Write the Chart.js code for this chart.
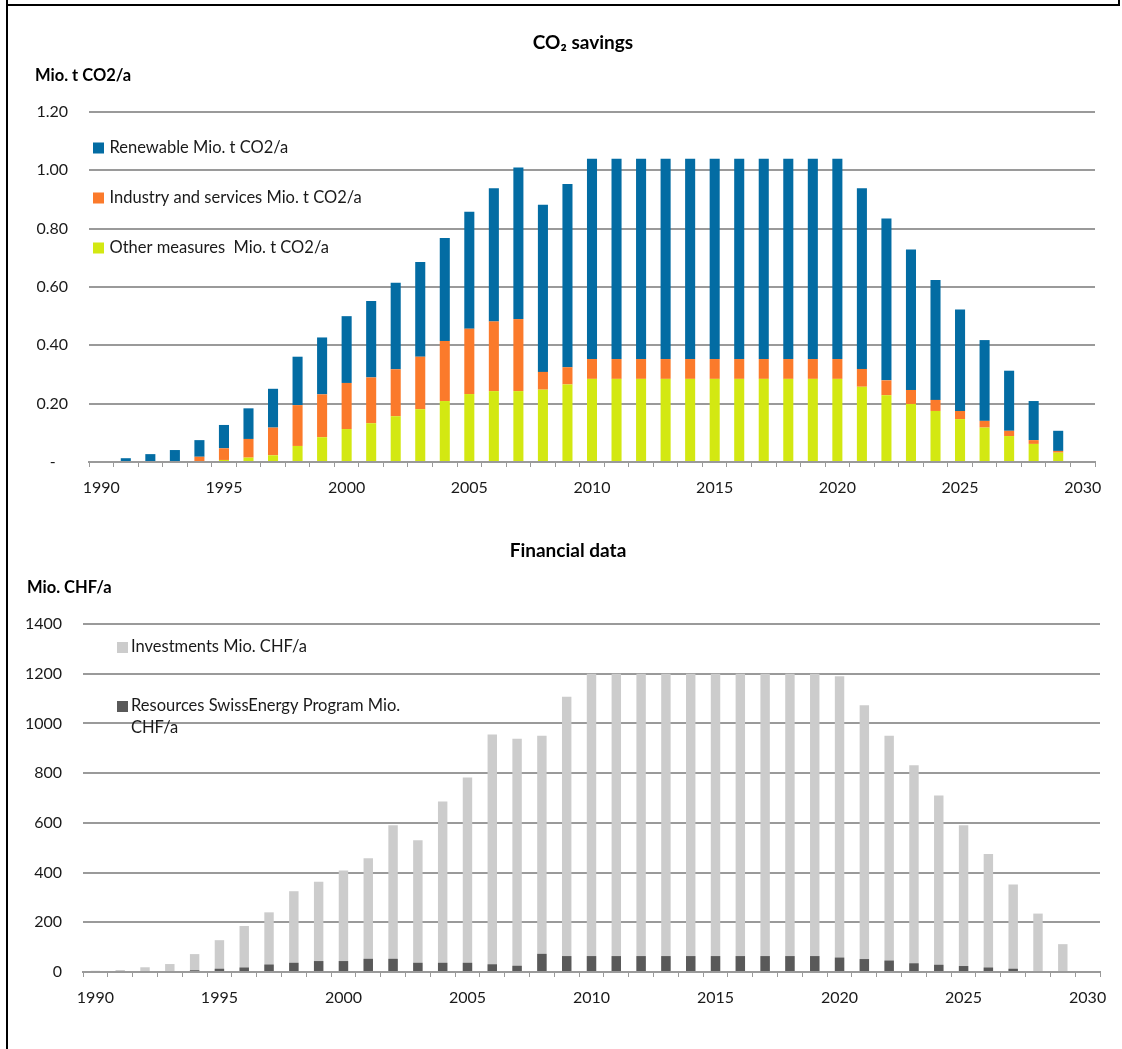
<!DOCTYPE html>
<html>
<head>
<meta charset="utf-8">
<script src="https://cdn.jsdelivr.net/npm/chart.js@4.4.1/dist/chart.umd.min.js"></script>
<style>
  html, body { margin: 0; padding: 0; background: #fff; overflow: hidden; }
  #page { position: relative; width: 1122px; height: 1049px; }
  canvas { position: absolute; left: 0; }
  .line { position: absolute; background: #000; }
</style>
</head>
<body>
<div id="page">
  <div class="line" style="left:6px;top:0;width:2px;height:1049px"></div>
  <div class="line" style="left:6px;top:4px;width:1114px;height:2px"></div>
  <div class="line" style="left:1118px;top:0;width:2px;height:6px"></div>
  <canvas id="co2" width="1122" height="500" style="top:0"></canvas>
  <canvas id="finance" width="1122" height="549" style="top:500px"></canvas>
</div>
<script>
const years = [1990, 1991, 1992, 1993, 1994, 1995, 1996, 1997, 1998, 1999,
  2000, 2001, 2002, 2003, 2004, 2005, 2006, 2007, 2008, 2009,
  2010, 2011, 2012, 2013, 2014, 2015, 2016, 2017, 2018, 2019,
  2020, 2021, 2022, 2023, 2024, 2025, 2026, 2027, 2028, 2029, 2030]

// Mio. t CO2/a
const otherMeasures = [0, 0, 0, 0, 0, 0.007, 0.015, 0.023, 0.055, 0.085,
  0.113, 0.133, 0.157, 0.181, 0.209, 0.233, 0.243, 0.243, 0.248, 0.266,
  0.285, 0.285, 0.285, 0.285, 0.285, 0.285, 0.285, 0.285, 0.285, 0.285,
  0.285, 0.258, 0.229, 0.199, 0.175, 0.147, 0.118, 0.089, 0.062, 0.032, 0]
const industry = [0, 0, 0, 0, 0.018, 0.040, 0.064, 0.095, 0.140, 0.147,
  0.158, 0.157, 0.161, 0.180, 0.206, 0.224, 0.239, 0.247, 0.061, 0.059,
  0.068, 0.068, 0.068, 0.068, 0.068, 0.068, 0.068, 0.068, 0.068, 0.068,
  0.068, 0.061, 0.051, 0.048, 0.038, 0.028, 0.023, 0.018, 0.013, 0.006, 0]
const renewable = [0, 0.013, 0.027, 0.041, 0.057, 0.080, 0.105, 0.133, 0.166, 0.195,
  0.229, 0.262, 0.297, 0.325, 0.353, 0.401, 0.457, 0.520, 0.573, 0.628,
  0.687, 0.687, 0.687, 0.687, 0.687, 0.687, 0.687, 0.687, 0.687, 0.687,
  0.687, 0.620, 0.555, 0.482, 0.411, 0.348, 0.277, 0.206, 0.134, 0.069, 0]

// Mio. CHF/a
const investments = [5, 8, 19, 32, 72, 128, 185, 240, 325, 363,
  408, 458, 590, 530, 686, 782, 955, 938, 950, 1107,
  1200, 1200, 1200, 1200, 1200, 1200, 1200, 1200, 1200, 1200,
  1190, 1073, 950, 832, 710, 590, 475, 352, 235, 112, 0]
const resources = [0, 0, 0, 0, 7, 13, 18, 30, 37, 44,
  44, 53, 53, 37, 37, 37, 31, 25, 73, 64,
  64, 64, 64, 64, 64, 64, 64, 64, 64, 64,
  58, 52, 46, 35, 29, 24, 18, 13, 0, 0, 0]

const co2Ticks = [0, 0.2, 0.4, 0.6, 0.8, 1.0, 1.2]
const chfTicks = [0, 200, 400, 600, 800, 1000, 1200, 1400]

const FONT = "Lato, 'Open Sans', sans-serif"
const GRID = "#9a9a9a"

// titles, unit label and the in-plot legend
const headings = {
  id: "headings",
  afterDraw(chart, args, o) {
    const {ctx, chartArea} = chart
    ctx.save()
    ctx.textBaseline = "middle"
    ctx.fillStyle = "#000"
    ctx.font = "bold 19px " + FONT
    ctx.textAlign = "center"
    ctx.fillText(o.title, o.titleX, o.titleY)
    ctx.font = "bold 16.5px " + FONT
    ctx.textAlign = "left"
    ctx.fillText(o.unit, o.unitX, o.unitY)

    ctx.font = "16.5px " + FONT
    let y = chartArea.top + o.legendTop
    const x = chartArea.left + o.legendLeft
    o.legendOrder.forEach((i) => {
      const ds = chart.data.datasets[i]
      ctx.fillStyle = ds.backgroundColor
      ctx.fillRect(x, y - 5, 11, 11)
      ctx.fillStyle = "#1a1a1a"
      ;[].concat(ds.label).forEach((t, j) => ctx.fillText(t, x + o.textGap, y + j * o.lineGap))
      y += o.itemGap
    })
    ctx.restore()
  }
}

const xAxis = (height) => ({
  stacked: true,
  offset: true,
  afterFit: (s) => { s.height = height },
  grid: { drawOnChartArea: false, drawTicks: true, tickLength: 5, offset: true, color: GRID, lineWidth: 1 },
  border: { display: true, color: GRID, width: 2 },
  ticks: {
    autoSkip: false, maxRotation: 0, padding: 11, color: "#1a1a1a",
    font: { family: FONT, size: 16 },
    callback: function (v) {
      const y = this.getLabelForValue(v)
      return y % 5 === 0 ? String(y) : ""
    }
  }
})

const yAxis = (width, tickValues, fmt) => ({
  min: tickValues[0],
  max: tickValues[tickValues.length - 1],
  afterFit: (s) => { s.width = width },
  afterBuildTicks: (s) => { s.ticks = tickValues.map((v) => ({value: v})) },
  grid: { drawTicks: false, color: GRID, lineWidth: 2 },
  border: { display: false },
  ticks: { padding: 21, color: "#1a1a1a", font: { family: FONT, size: 16 }, callback: fmt }
})

new Chart(document.getElementById("co2"), {
  type: "bar",
  data: {
    labels: years,
    datasets: [
      { label: "Other measures  Mio. t CO2/a", data: otherMeasures, backgroundColor: "#d3e812" },
      { label: "Industry and services Mio. t CO2/a", data: industry, backgroundColor: "#fb7a2b" },
      { label: "Renewable Mio. t CO2/a", data: renewable, backgroundColor: "#036ca3" },
    ],
  },
  options: {
    responsive: false,
    animation: false,
    barPercentage: 0.41,
    categoryPercentage: 1,
    layout: { padding: { top: 112, right: 27, bottom: 0, left: 0 } },
    scales: {
      x: xAxis(38),
      y: Object.assign(yAxis(89, co2Ticks, (v) => v === 0 ? "-   " : v.toFixed(2)), { stacked: true }),
    },
    plugins: {
      legend: { display: false },
      tooltip: { enabled: false },
      headings: {
        title: "CO\u2082 savings", titleX: 583, titleY: 43,
        unit: "Mio. t CO2/a", unitX: 35, unitY: 76,
        legendOrder: [2, 1, 0], legendLeft: 4, legendTop: 35.5, itemGap: 50, textGap: 16.5, lineGap: 22,
      },
    },
  },
  plugins: [headings],
})

new Chart(document.getElementById("finance"), {
  type: "bar",
  data: {
    labels: years,
    datasets: [
      { label: "Investments Mio. CHF/a", data: investments, backgroundColor: "#cccccc", grouped: false, order: 1 },
      { label: ["Resources SwissEnergy Program Mio.", "CHF/a"], data: resources, backgroundColor: "#595959", grouped: false, order: 0 },
    ],
  },
  options: {
    responsive: false,
    animation: false,
    barPercentage: 0.38,
    categoryPercentage: 1,
    layout: { padding: { top: 124, right: 22, bottom: 0, left: 0 } },
    scales: {
      x: Object.assign(xAxis(77), { stacked: false }),
      y: yAxis(83, chfTicks, (v) => String(v)),
    },
    plugins: {
      legend: { display: false },
      tooltip: { enabled: false },
      headings: {
        title: "Financial data", titleX: 568, titleY: 51,
        unit: "Mio. CHF/a", unitX: 27, unitY: 87.5,
        legendOrder: [0, 1], legendLeft: 34, legendTop: 23, itemGap: 59, textGap: 14, lineGap: 22,
      },
    },
  },
  plugins: [headings],
})
</script>
</body>
</html>
